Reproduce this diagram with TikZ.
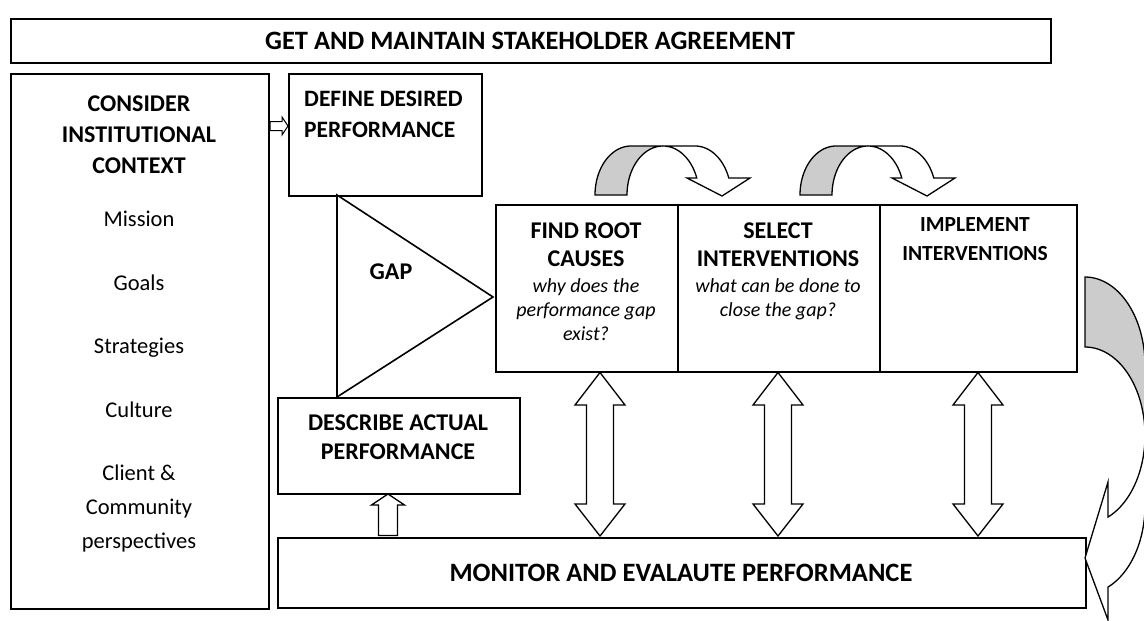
\documentclass[tikz,border=0pt]{standalone}
\usepackage{fontspec}
\setmainfont{Carlito}
\begin{document}
\begin{tikzpicture}[x=1pt,y=-1pt,
  box/.style={draw, line width=1.8pt, inner sep=0pt, anchor=north west},
  bt/.style={font=\fontsize{24}{29}\selectfont\bfseries, inner sep=0pt, anchor=base},
  btl/.style={font=\fontsize{26.5}{31}\selectfont\bfseries, inner sep=0pt, anchor=base},
  btd/.style={font=\fontsize{23.5}{28}\selectfont\bfseries, inner sep=0pt, anchor=base},
  bts/.style={font=\fontsize{21.5}{26}\selectfont\bfseries, inner sep=0pt, anchor=base},
  rt/.style={font=\fontsize{22.5}{27}\selectfont, inner sep=0pt, anchor=base},
  it/.style={font=\fontsize{20}{24}\selectfont\itshape, inner sep=0pt, anchor=base},
  blk/.style={draw, line width=1.3pt, fill=white, line join=miter},
  rear/.style={draw, line width=1.3pt, fill=black!20, line join=miter},
]
\useasboundingbox (0,0) rectangle (1144,621);
\clip (0,0) rectangle (1144,621);

% boxes
\node[box, minimum width=1040pt, minimum height=44pt] (top) at (10,18) {};
\node[box, minimum width=258pt, minimum height=535pt] (ctx) at (10,73) {};
\node[box, minimum width=193pt, minimum height=122pt] (def) at (288,73) {};
\node[box, minimum width=182pt, minimum height=167pt] (find) at (495,204) {};
\node[box, minimum width=202pt, minimum height=167pt] (sel) at (677,204) {};
\node[box, minimum width=197pt, minimum height=167pt] (impl) at (879,204) {};
\node[box, minimum width=242pt, minimum height=96pt] (act) at (277,397) {};
\node[box, minimum width=808pt, minimum height=70pt] (mon) at (277,537) {};

% gap triangle
\draw[line width=1.6pt, line join=miter] (337,195) coordinate (g1) -- (493,297) coordinate (g2) -- (337,397) coordinate (g3) -- cycle;
\node[bt] (gap) at (391,279) {GAP};

% texts
\node[btl] (tt) at (530,49) {GET AND MAINTAIN STAKEHOLDER AGREEMENT};
\node[bt] (c1) at (139,111) {CONSIDER};
\node[bt] (c2) at (139,142) {INSTITUTIONAL};
\node[bt] (c3) at (139,173) {CONTEXT};
\node[rt] (m1) at (139,226) {Mission};
\node[rt] (m2) at (139,290) {Goals};
\node[rt] (m3) at (139,353) {Strategies};
\node[rt] (m4) at (139,417) {Culture};
\node[rt] (m5) at (139,480) {Client \&};
\node[rt] (m6) at (139,514) {Community};
\node[rt] (m7) at (139,548) {perspectives};

\node[btd, anchor=base west] (d1) at (304,106) {DEFINE DESIRED};
\node[btd, anchor=base west] (d2) at (304,137) {PERFORMANCE};

\node[bt] (f1) at (586,238) {FIND ROOT};
\node[bt] (f2) at (586,266) {CAUSES};
\node[it] (f3) at (586,292) {why does the};
\node[it] (f4) at (586,316) {performance gap};
\node[it] (f5) at (586,340) {exist?};

\node[bt] (s1) at (778,238) {SELECT};
\node[bt] (s2) at (778,266) {INTERVENTIONS};
\node[it] (s3) at (778,292) {what can be done to};
\node[it] (s4) at (778,316) {close the gap?};

\node[bts] (i1) at (975,231) {IMPLEMENT};
\node[bts] (i2) at (975,260) {INTERVENTIONS};

\node[bt] (a1) at (398,430) {DESCRIBE ACTUAL};
\node[bt] (a2) at (398,459) {PERFORMANCE};

\node[btl] (mt) at (681,581) {MONITOR AND EVALAUTE PERFORMANCE};

% small arrow context -> define
\draw[blk, line width=1pt] (270,121.5) -- (282,121.5) -- (282,117) -- (288,126) -- (282,135) -- (282,130.5) -- (270,130.5) -- cycle;

% up arrow monitor -> describe
\draw[blk] (388,494) -- (404.5,505) -- (397.5,505) -- (397.5,535.5) -- (378.5,535.5) -- (378.5,505) -- (371.5,505) -- cycle;

% double arrows
\foreach \cx in {600,778,978}{
  \draw[blk] (\cx,372.5) -- (\cx+25,405) -- (\cx+13.5,405) -- (\cx+13.5,504) -- (\cx+25,504) -- (\cx,536) -- (\cx-25,504) -- (\cx-13.5,504) -- (\cx-13.5,405) -- (\cx-25,405) -- cycle;
}

% curved down arrows
\foreach \dx in {0,205}{
  \begin{scope}[xshift=\dx pt]
  \draw[rear] (595,195) -- plot[domain=180:90, samples=30] ({631+36*cos(\x)},{195-49*sin(\x)}) -- (663,146) -- plot[domain=90:180, samples=30] ({663+36*cos(\x)},{195-49*sin(\x)}) -- cycle;
  \draw[blk] (663,146) -- (695,146) -- plot[domain=90:20.3, samples=30] ({695+36*cos(\x)},{195-49*sin(\x)}) -- (750,178) -- (722,196) -- (687,178) -- plot[domain=20.3:90, samples=30] ({663+36*cos(\x)},{195-49*sin(\x)}) -- cycle;
  \end{scope}
}

% curved left arrow on the right
\draw[rear] (1085,277) -- plot[domain=90:0, samples=30] ({1085+60*cos(\x)},{365.4-88.4*sin(\x)}) -- (1145,435.4) -- plot[domain=0:90, samples=30] ({1085+60*cos(\x)},{435.4-88.4*sin(\x)}) -- cycle;
\draw[blk] (1145,435.4) -- plot[domain=0:67.5, samples=30] ({1085+60*cos(\x)},{435.4+88.4*sin(\x)}) -- (1108,482) -- (1085,558) -- (1108,620) -- plot[domain=67.5:0, samples=30] ({1085+60*cos(\x)},{505.4+88.4*sin(\x)}) -- cycle;
\end{tikzpicture}
\end{document}
